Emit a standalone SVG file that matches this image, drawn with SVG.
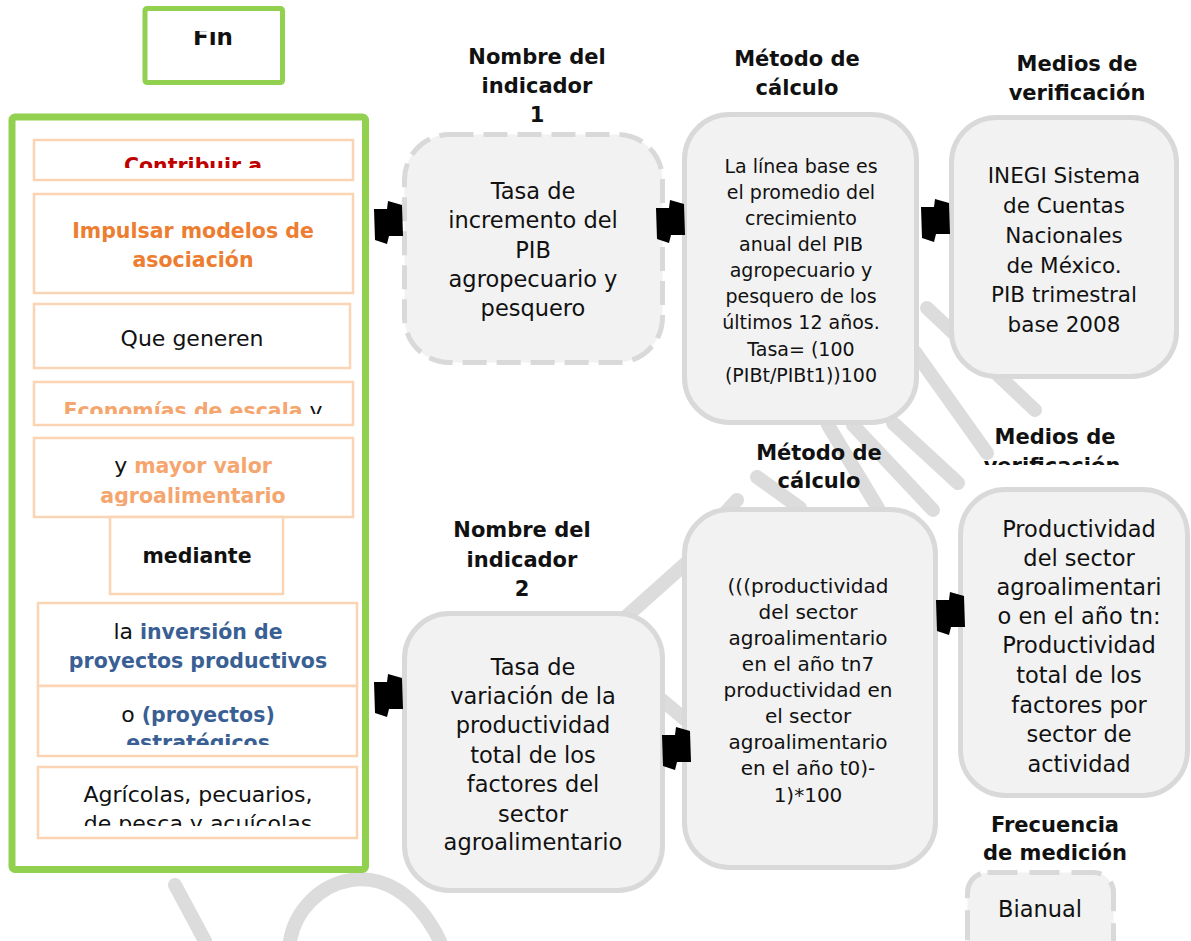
<svg xmlns="http://www.w3.org/2000/svg" xmlns:xlink="http://www.w3.org/1999/xlink" width="1191" height="941" viewBox="0 0 1191 941">
  <style>
    text { font-family: "DejaVu Sans", "Liberation Sans", sans-serif; text-anchor: middle; fill: #111; }
    .hd { font-weight: bold; font-size: 21px; }
    .big { font-size: 22.5px; }
    .mid { font-size: 19px; }
    .m2 { font-size: 20px; }
    .inegi { font-size: 21.5px; }
    .pnl { font-size: 22px; }
    .b { font-weight: bold; font-size: 20.5px; }
    .red { fill: #c00000; }
    .org { fill: #ed7d31; }
    .lor { fill: #f5a66f; }
    .blu { fill: #3a5f94; }
    .green { fill: #ffffff; stroke: #92d050; }
    .peach { fill: #ffffff; stroke: #fbd4b4; stroke-width: 2.5; }
    .card { fill: #f2f2f2; stroke: #d9d9d9; stroke-width: 5; }
    .dash { stroke-dasharray: 24 10; }
    .wm { fill: none; stroke: #dcdcdc; stroke-width: 14; stroke-linecap: round; }
  </style>
  <defs>
    <path id="blob" d="M0,8 L13,8 L14,0 L28,4 L29,35 L15,35 L13,43 L1,39 Z" fill="#000"/>
    <clipPath id="cFin"><rect x="140" y="31" width="150" height="60"/></clipPath>
    <clipPath id="cContrib"><rect x="30" y="140" width="330" height="28"/></clipPath>
    <clipPath id="cEcon"><rect x="30" y="383" width="330" height="31"/></clipPath>
    <clipPath id="cValor"><rect x="30" y="439" width="330" height="67"/></clipPath>
    <clipPath id="cEstr"><rect x="30" y="688" width="330" height="57"/></clipPath>
    <clipPath id="cAgri"><rect x="30" y="768" width="330" height="58"/></clipPath>
    <clipPath id="cMed2"><rect x="960" y="415" width="200" height="50"/></clipPath>
  </defs>

  <rect width="1191" height="941" fill="#ffffff"/>

  <!-- background watermark strokes -->
  <g id="watermark">
    <path class="wm" d="M290 941 C300 880 390 840 440 941"/>
    <path class="wm" d="M175 885 L205 941"/>
    <path class="wm" d="M600 640 L712 540"/>
    <path class="wm" d="M650 690 L700 732"/>
    <path class="wm" d="M757 477 L800 508"/>
    <path class="wm" d="M828 425 L878 508"/>
    <path class="wm" d="M853 425 L933 510"/>
    <path class="wm" d="M893 423 L958 483"/>
    <path class="wm" d="M915 352 L987 453"/>
    <path class="wm" d="M927 308 L1035 410"/>
    <path class="wm" d="M737 500 L700 540"/>
  </g>

  <!-- Fin -->
  <g id="fin">
    <rect class="green" x="145" y="8.5" width="137.5" height="74" rx="2" stroke-width="5"/>
    <text x="213" y="45" clip-path="url(#cFin)" style="font-weight:bold;font-size:23px">Fin</text>
  </g>

  <!-- left panel -->
  <g id="panel">
    <rect class="green" x="12" y="117" width="353.5" height="752.5" rx="3" stroke-width="7"/>
  </g>
  <g id="contribuir">
    <rect class="peach" x="34" y="140" width="319" height="40"/>
    <text class="b red" x="193" y="173" clip-path="url(#cContrib)">Contribuir a</text>
  </g>
  <g id="impulsar">
    <rect class="peach" x="34" y="194" width="319" height="99"/>
    <text class="b org" x="193" y="238">Impulsar modelos de</text>
    <text class="b org" x="193" y="267">asociación</text>
  </g>
  <g id="generen">
    <rect class="peach" x="34" y="304" width="316" height="64"/>
    <text class="pnl" x="192" y="346">Que generen</text>
  </g>
  <g id="economias">
    <rect class="peach" x="34" y="382" width="319" height="43"/>
    <text x="193" y="418" clip-path="url(#cEcon)"><tspan class="b lor">Economías de escala</tspan><tspan class="pnl"> y</tspan></text>
  </g>
  <g id="valor">
    <rect class="peach" x="34" y="438" width="319" height="79"/>
    <text x="193" y="473" clip-path="url(#cValor)"><tspan class="pnl">y </tspan><tspan class="b lor">mayor valor</tspan></text>
    <text class="b lor" x="193" y="503" clip-path="url(#cValor)">agroalimentario</text>
  </g>
  <g id="mediante">
    <rect class="peach" x="110" y="517" width="173" height="77"/>
    <text class="b" x="197" y="563">mediante</text>
  </g>
  <g id="inversion">
    <rect class="peach" x="38" y="603" width="319" height="83"/>
    <text x="198" y="639"><tspan class="pnl">la </tspan><tspan class="b blu">inversión de</tspan></text>
    <text class="b blu" x="198" y="668">proyectos productivos</text>
  </g>
  <g id="estrategicos">
    <rect class="peach" x="38" y="686" width="319" height="70"/>
    <text x="198" y="722"><tspan class="pnl">o </tspan><tspan class="b blu">(proyectos)</tspan></text>
    <text class="b blu" x="198" y="750" clip-path="url(#cEstr)">estratégicos</text>
  </g>
  <g id="agricolas">
    <rect class="peach" x="38" y="767" width="319" height="71"/>
    <text class="pnl" x="198" y="802">Agrícolas, pecuarios,</text>
    <text class="pnl" x="198" y="831" clip-path="url(#cAgri)">de pesca y acuícolas</text>
  </g>

  <!-- column headers -->
  <g id="headers">
    <text class="hd" x="537" y="64">Nombre del</text>
    <text class="hd" x="537" y="93">indicador</text>
    <text class="hd" x="537" y="122">1</text>
    <text class="hd" x="797" y="66">Método de</text>
    <text class="hd" x="797" y="95">cálculo</text>
    <text class="hd" x="1077" y="71">Medios de</text>
    <text class="hd" x="1077" y="100">verificación</text>
    <text class="hd" x="522" y="537">Nombre del</text>
    <text class="hd" x="522" y="567">indicador</text>
    <text class="hd" x="522" y="596">2</text>
    <text class="hd" x="819" y="460">Método de</text>
    <text class="hd" x="819" y="488">cálculo</text>
    <text class="hd" x="1055" y="444">Medios de</text>
    <text class="hd" x="1052" y="473" clip-path="url(#cMed2)">verificación</text>
    <text class="hd" x="1055" y="832">Frecuencia</text>
    <text class="hd" x="1055" y="860">de medición</text>
  </g>

  <!-- indicator 1 -->
  <g id="ind1">
    <rect class="card dash" x="404.5" y="134.5" width="258" height="228" rx="45"/>
    <text class="big" x="533" y="199">Tasa de</text>
    <text class="big" x="533" y="228">incremento del</text>
    <text class="big" x="533" y="258">PIB</text>
    <text class="big" x="533" y="287">agropecuario y</text>
    <text class="big" x="533" y="316">pesquero</text>
  </g>
  <g id="metodo1">
    <rect class="card" x="684.5" y="114.5" width="232" height="308" rx="45"/>
    <text class="mid" x="801" y="173">La línea base es</text>
    <text class="mid" x="801" y="199">el promedio del</text>
    <text class="mid" x="801" y="225">crecimiento</text>
    <text class="mid" x="801" y="251">anual del PIB</text>
    <text class="mid" x="801" y="277">agropecuario y</text>
    <text class="mid" x="801" y="303">pesquero de los</text>
    <text class="mid" x="801" y="329">últimos 12 años.</text>
    <text class="mid" x="801" y="356">Tasa= (100</text>
    <text class="mid" x="801" y="382">(PIBt/PIBt1))100</text>
  </g>
  <g id="medios1">
    <rect class="card" x="951.5" y="117.5" width="225" height="259" rx="45"/>
    <text class="inegi" x="1064" y="183">INEGI Sistema</text>
    <text class="inegi" x="1064" y="213">de Cuentas</text>
    <text class="inegi" x="1064" y="243">Nacionales</text>
    <text class="inegi" x="1064" y="273">de México.</text>
    <text class="inegi" x="1064" y="302">PIB trimestral</text>
    <text class="inegi" x="1064" y="332">base 2008</text>
  </g>

  <!-- indicator 2 -->
  <g id="ind2">
    <rect class="card" x="404.5" y="613.5" width="258" height="277" rx="45"/>
    <text class="big" x="533" y="675">Tasa de</text>
    <text class="big" x="533" y="704">variación de la</text>
    <text class="big" x="533" y="733">productividad</text>
    <text class="big" x="533" y="763">total de los</text>
    <text class="big" x="533" y="792">factores del</text>
    <text class="big" x="533" y="822">sector</text>
    <text class="big" x="533" y="850">agroalimentario</text>
  </g>
  <g id="metodo2">
    <rect class="card" x="684.5" y="509.5" width="251" height="358" rx="45"/>
    <text class="m2" x="808" y="593">(((productividad</text>
    <text class="m2" x="808" y="619">del sector</text>
    <text class="m2" x="808" y="645">agroalimentario</text>
    <text class="m2" x="808" y="671">en el año tn7</text>
    <text class="m2" x="808" y="697">productividad en</text>
    <text class="m2" x="808" y="723">el sector</text>
    <text class="m2" x="808" y="749">agroalimentario</text>
    <text class="m2" x="808" y="775">en el año t0)-</text>
    <text class="m2" x="808" y="802">1)*100</text>
  </g>
  <g id="medios2">
    <rect class="card" x="960.5" y="489.5" width="227" height="306" rx="45"/>
    <text class="big" x="1079" y="537">Productividad</text>
    <text class="big" x="1079" y="566">del sector</text>
    <text class="big" x="1079" y="595">agroalimentari</text>
    <text class="big" x="1079" y="624">o en el año tn:</text>
    <text class="big" x="1079" y="653">Productividad</text>
    <text class="big" x="1079" y="683">total de los</text>
    <text class="big" x="1079" y="713">factores por</text>
    <text class="big" x="1079" y="742">sector de</text>
    <text class="big" x="1079" y="772">actividad</text>
  </g>
  <g id="frecuencia">
    <rect class="card" x="967.5" y="872.5" width="146" height="100" rx="20" style="stroke-dasharray:30 12"/>
    <text class="big" x="1040" y="917">Bianual</text>
  </g>

  <!-- connectors -->
  <g id="connectors">
    <use xlink:href="#blob" x="374" y="201"/>
    <use xlink:href="#blob" x="656" y="200"/>
    <use xlink:href="#blob" x="921" y="199"/>
    <use xlink:href="#blob" x="374" y="674"/>
    <use xlink:href="#blob" x="662" y="727"/>
    <use xlink:href="#blob" x="936" y="592"/>
  </g>
</svg>
